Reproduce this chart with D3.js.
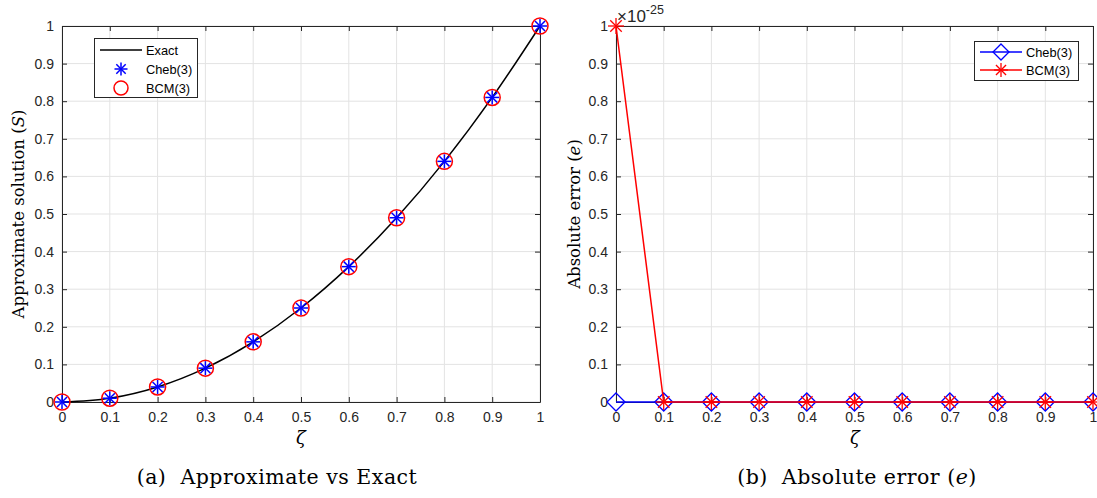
<!DOCTYPE html>
<html><head><meta charset="utf-8">
<script src="https://cdn.jsdelivr.net/npm/d3@7"></script>
<style>body{margin:0;background:#fff}svg{display:block}</style>
</head><body>
<svg id="c" width="1097" height="498"></svg>
<script>
const zeta = [0,0.1,0.2,0.3,0.4,0.5,0.6,0.7,0.8,0.9,1];
const exactS = [0,0.01,0.04,0.09,0.16,0.25,0.36,0.49,0.64,0.81,1];
const chebS = [0,0.01,0.04,0.09,0.16,0.25,0.36,0.49,0.64,0.81,1];
const bcmS = [0,0.01,0.04,0.09,0.16,0.25,0.36,0.49,0.64,0.81,1];
const chebErr = [0,0,0,0,0,0,0,0,0,0,0];
const bcmErr = [1e-25,0,0,0,0,0,0,0,0,0,0];
const xTicks = [0,0.1,0.2,0.3,0.4,0.5,0.6,0.7,0.8,0.9,1];
const yTicks = [0,0.1,0.2,0.3,0.4,0.5,0.6,0.7,0.8,0.9,1];

const svg = d3.select("#c");
const axisCol = "#262626", gridCol = "#e3e3e3";
const tickFont = "'Liberation Sans', Arial, sans-serif";
const serif = "'DejaVu Serif', 'Liberation Serif', serif";

function panel(x0, x1, yDomainMax, yFmt) {
  const y0 = 402, y1 = 26;
  const x = d3.scaleLinear().domain([0,1]).range([x0,x1]);
  const y = d3.scaleLinear().domain([0,yDomainMax]).range([y0,y1]);
  const g = svg.append("g");
  g.selectAll(".gx").data(xTicks).enter().append("line")
    .attr("x1",d=>x(d)).attr("x2",d=>x(d)).attr("y1",y0).attr("y2",y1)
    .attr("stroke",gridCol).attr("stroke-width",1);
  g.selectAll(".gy").data(yTicks).enter().append("line")
    .attr("y1",d=>y(d*yDomainMax)).attr("y2",d=>y(d*yDomainMax)).attr("x1",x0).attr("x2",x1)
    .attr("stroke",gridCol).attr("stroke-width",1);
  const ax = d3.axisBottom(x).tickValues(xTicks).tickSizeInner(-5).tickSizeOuter(0).tickPadding(10)
    .tickFormat(d=>d3.format("")(+d.toFixed(1)));
  const ay = d3.axisLeft(y).tickValues(yTicks.map(d=>d*yDomainMax)).tickSizeInner(-5).tickSizeOuter(0).tickPadding(8)
    .tickFormat(yFmt);
  const axT = d3.axisTop(x).tickValues(xTicks).tickSizeInner(-5).tickSizeOuter(0).tickFormat("");
  const ayR = d3.axisRight(y).tickValues(yTicks.map(d=>d*yDomainMax)).tickSizeInner(-5).tickSizeOuter(0).tickFormat("");
  const styleAxis = s => { s.selectAll("path").attr("stroke",axisCol); s.selectAll("line").attr("stroke",axisCol);
    s.selectAll("text").attr("fill",axisCol).style("font-family",tickFont).style("font-size","14px"); };
  g.append("g").attr("transform",`translate(0,${y0})`).call(ax).call(styleAxis);
  g.append("g").attr("transform",`translate(${x0},0)`).call(ay).call(styleAxis);
  g.append("g").attr("transform",`translate(0,${y1})`).call(axT).call(styleAxis);
  g.append("g").attr("transform",`translate(${x1},0)`).call(ayR).call(styleAxis);
  return {x, y, g};
}

function star(g, cx, cy, r, col, w) {
  const s = g.append("g").attr("stroke",col).attr("stroke-width",w||1.3);
  s.append("line").attr("x1",cx-r).attr("x2",cx+r).attr("y1",cy).attr("y2",cy);
  s.append("line").attr("x1",cx).attr("x2",cx).attr("y1",cy-r).attr("y2",cy+r);
  const d = r*0.72;
  s.append("line").attr("x1",cx-d).attr("x2",cx+d).attr("y1",cy-d).attr("y2",cy+d);
  s.append("line").attr("x1",cx-d).attr("x2",cx+d).attr("y1",cy+d).attr("y2",cy-d);
}
function diamond(g, cx, cy, r, col) {
  g.append("path").attr("d",`M${cx},${cy-r}L${cx+r},${cy}L${cx},${cy+r}L${cx-r},${cy}Z`)
    .attr("fill","none").attr("stroke",col).attr("stroke-width",1.3);
}

// ---------- Panel (a) ----------
const A = panel(62, 540, 1, d=>d3.format("")(+d.toFixed(1)));
const ptsExact = zeta.map((z,i)=>[z, exactS[i]]);
A.g.append("path").datum(ptsExact)
  .attr("d", d3.line().x(d=>A.x(d[0])).y(d=>A.y(d[1])).curve(d3.curveMonotoneX))
  .attr("fill","none").attr("stroke","#000").attr("stroke-width",1.5);
zeta.forEach((z,i)=>{
  A.g.append("circle").attr("cx",A.x(z)).attr("cy",A.y(bcmS[i])).attr("r",8)
    .attr("fill","none").attr("stroke","#ff0000").attr("stroke-width",1.5);
  star(A.g, A.x(z), A.y(chebS[i]), 7, "#0000ff", 1.5);
});
{
  const L = svg.append("g");
  L.append("rect").attr("x",94.5).attr("y",38.5).attr("width",103).attr("height",59)
    .attr("fill","#fff").attr("stroke",axisCol).attr("stroke-width",1);
  L.append("line").attr("x1",100).attr("x2",142).attr("y1",50).attr("y2",50).attr("stroke","#000").attr("stroke-width",1.5);
  star(L, 121, 69, 6.5, "#0000ff", 1.5);
  L.append("circle").attr("cx",121).attr("cy",88).attr("r",7).attr("fill","none").attr("stroke","#ff0000").attr("stroke-width",1.5);
  [["Exact",50],["Cheb(3)",69],["BCM(3)",88]].forEach(([t,yy])=>
    L.append("text").attr("x",146).attr("y",yy+4.5).text(t).style("font-family",tickFont).style("font-size","12.8px").attr("fill","#000"));
}
svg.append("text").attr("x",301).attr("y",444).attr("text-anchor","middle")
  .style("font-family",serif).style("font-style","italic").style("font-size","18px").text("ζ");
svg.append("text").attr("transform","translate(24,214) rotate(-90)").attr("text-anchor","middle")
  .style("font-family",serif).style("font-size","16.5px")
  .html("Approximate solution (<tspan font-style='italic'>S</tspan>)");
svg.append("text").attr("x",277).attr("y",484).attr("text-anchor","middle")
  .style("font-family",serif).style("font-size","20.5px").style("letter-spacing","0.5px").style("white-space","pre")
  .text("(a)  Approximate vs Exact");

// ---------- Panel (b) ----------
const B = panel(616, 1093, 1e-25, d=>d3.format("")(+(d/1e-25).toFixed(1)));
const lineB = d3.line().x(d=>B.x(d[0])).y(d=>B.y(d[1]));
B.g.append("path").datum(zeta.map((z,i)=>[z,chebErr[i]])).attr("d",lineB)
  .attr("fill","none").attr("stroke","#0000ff").attr("stroke-width",1.5);
zeta.forEach((z,i)=>diamond(B.g, B.x(z), B.y(chebErr[i]), 9, "#0000ff"));
B.g.append("path").datum(zeta.map((z,i)=>[z,bcmErr[i]])).attr("d",lineB)
  .attr("fill","none").attr("stroke","#ff0000").attr("stroke-width",1.5);
zeta.forEach((z,i)=>star(B.g, B.x(z), B.y(bcmErr[i]), 8, "#ff0000", 1.3));
{
  const L = svg.append("g");
  L.append("rect").attr("x",974.5).attr("y",41.5).attr("width",104).attr("height",39)
    .attr("fill","#fff").attr("stroke",axisCol).attr("stroke-width",1);
  L.append("line").attr("x1",980).attr("x2",1022).attr("y1",52).attr("y2",52).attr("stroke","#0000ff").attr("stroke-width",1.5);
  diamond(L, 1001, 52, 8, "#0000ff");
  L.append("line").attr("x1",980).attr("x2",1022).attr("y1",70).attr("y2",70).attr("stroke","#ff0000").attr("stroke-width",1.5);
  star(L, 1001, 70, 7, "#ff0000", 1.3);
  [["Cheb(3)",52],["BCM(3)",70]].forEach(([t,yy])=>
    L.append("text").attr("x",1026).attr("y",yy+4.5).text(t).style("font-family",tickFont).style("font-size","12.8px").attr("fill","#000"));
}
{
  const ex = svg.append("text").attr("x",617).attr("y",22).attr("fill",axisCol)
    .style("font-family",tickFont).style("font-size","17px");
  ex.append("tspan").text("×10");
  ex.append("tspan").attr("dy",-8).style("font-size","12.5px").text("-25");
}
svg.append("text").attr("x",855).attr("y",444).attr("text-anchor","middle")
  .style("font-family",serif).style("font-style","italic").style("font-size","18px").text("ζ");
svg.append("text").attr("transform","translate(580,214) rotate(-90)").attr("text-anchor","middle")
  .style("font-family",serif).style("font-size","16.5px")
  .html("Absolute error (<tspan font-style='italic'>e</tspan>)");
svg.append("text").attr("x",857).attr("y",484).attr("text-anchor","middle")
  .style("font-family",serif).style("font-size","20.5px").style("letter-spacing","0.5px").style("white-space","pre")
  .html("(b)  Absolute error (<tspan font-style='italic'>e</tspan>)");
</script>
</body></html>
